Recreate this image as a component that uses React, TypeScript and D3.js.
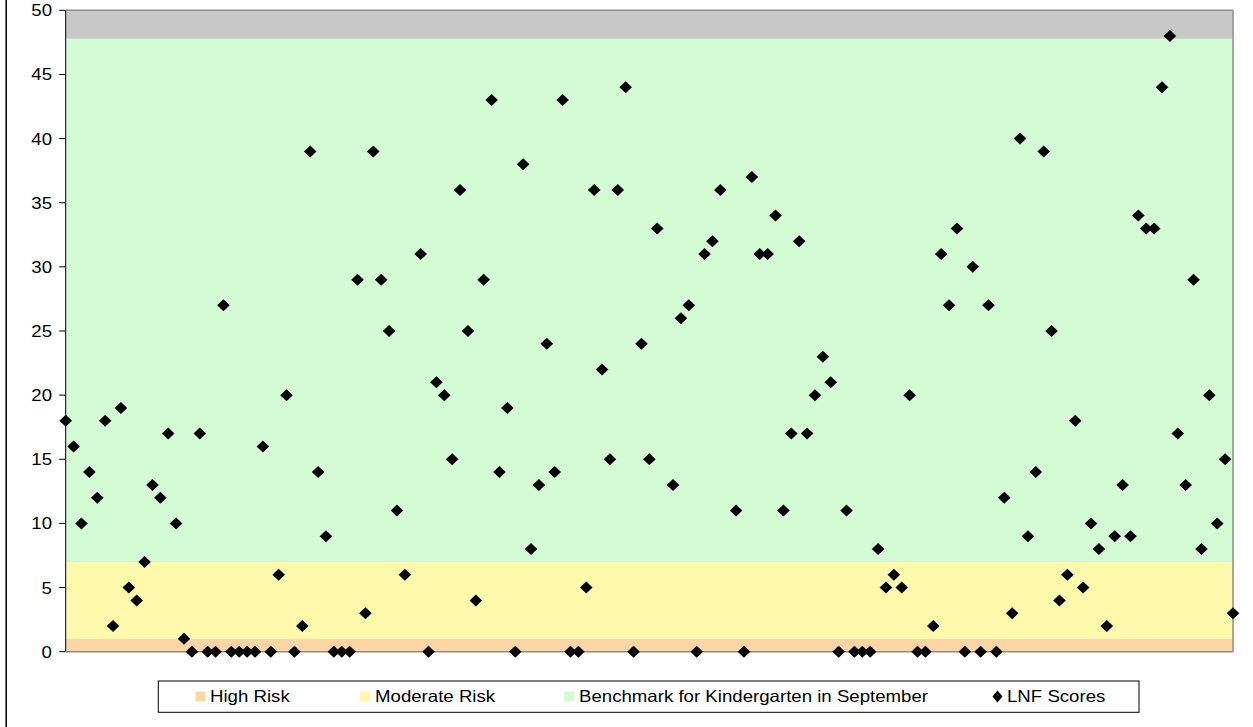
import React from "react";
import * as d3 from "d3";

// ---- Data ----
const students: number[] = Array.from({ length: 149 }, (_, i) => i + 1);
const lnfScores: (number | null)[] = [
  18, 16, 10, 14, 12, 18, 2, 19, 5, 4,
  7, 13, 12, 17, 10, 1, 0, 17, 0, 0,
  27, 0, 0, 0, 0, 16, 0, 6, 20, 0,
  2, 39, 14, 9, 0, 0, 0, 29, 3, 39,
  29, 25, 11, 6, null, 31, 0, 21, 20, 15,
  36, 25, 4, 29, 43, 14, 19, 0, 38, 8,
  13, 24, 14, 43, 0, 0, 5, 36, 22, 15,
  36, 44, 0, 24, 15, 33, null, 13, 26, 27,
  0, 31, 32, 36, null, 11, 0, 37, 31, 31,
  34, 11, 17, 32, 17, 20, 23, 21, 0, 11,
  0, 0, 0, 8, 5, 6, 5, 20, 0, 0,
  2, 31, 27, 33, 0, 30, 0, 27, 0, 12,
  3, 40, 9, 14, 39, 25, 4, 6, 18, 5,
  10, 8, 2, 9, 13, 9, 34, 33, 33, 44,
  48, 17, 13, 29, 8, 20, 10, 15, 3,
];
const bandNames = ["High Risk", "Moderate Risk", "Benchmark for Kindergarten in September"];
const bandLower = [0, 1, 7];
const bandUpper = [1, 7, 47.8];
const bandColors = ["#FFD5A6", "#FFFAAB", "#D3FBD4"];
const yTicks = [0, 5, 10, 15, 20, 25, 30, 35, 40, 45, 50];
const seriesName = "LNF Scores";

const W = 1253;
const H = 727;
const PL = 65.7;
const PR = 1233;
const PT = 10.3;
const PB = 651.7;
const FONT = "'Liberation Sans', Arial, sans-serif";
const FS = 16.5;
const SX = 1.13;

export default function App() {
  const x = d3.scaleLinear().domain([0, students.length - 1]).range([PL, PR]);
  const y = d3.scaleLinear().domain([0, 50]).range([PB, PT]);
  const diamond = (cx: number, cy: number, hw = 6.3, hh = 6) =>
    `M${cx},${cy - hh}L${cx + hw},${cy}L${cx},${cy + hh}L${cx - hw},${cy}Z`;

  const legendItems = [
    { sx: 195.5, tx: 210 },
    { sx: 360, tx: 375 },
    { sx: 564, tx: 579 },
  ];
  const legY = 696.5;

  return (
    <svg
      width={W}
      height={H}
      style={{ position: "absolute", left: 0, top: 0, background: "#fff" }}
      fontFamily={FONT}
    >
      <rect x={0} y={0} width={W} height={H} fill="#fff" />
      {/* chart-area left border */}
      <line x1={6.2} x2={6.2} y1={0} y2={H} stroke="#000" strokeWidth={1.5} />

      {/* plot area background */}
      <rect x={PL} y={PT} width={PR - PL} height={PB - PT} fill="#C8C8C8" />
      {/* stacked bands */}
      {bandNames.map((n, i) => (
        <rect
          key={n}
          x={x(0)}
          width={x(students.length - 1) - x(0)}
          y={y(bandUpper[i])}
          height={y(bandLower[i]) - y(bandUpper[i])}
          fill={bandColors[i]}
        />
      ))}
      {/* plot border top/right */}
      <line x1={PL} x2={PR} y1={PT} y2={PT} stroke="#8C8C8C" strokeWidth={1.5} />
      <line x1={PR} x2={PR} y1={PT} y2={PB} stroke="#8C8C8C" strokeWidth={1.5} />
      {/* bottom axis */}
      <line x1={PL} x2={PR} y1={PB} y2={PB} stroke="#8C8C8C" strokeWidth={1.5} />
      {/* y axis */}
      <line x1={PL} x2={PL} y1={PT} y2={PB} stroke="#000" strokeWidth={1} />
      {yTicks.map((t) => (
        <g key={t}>
          <line x1={PL - 6.5} x2={PL} y1={y(t)} y2={y(t)} stroke="#000" strokeWidth={1} />
          <g transform={`translate(52,${y(t)}) scale(${SX},1)`}>
            <text x={0} y={0} dy="0.36em" textAnchor="end" fontSize={FS} fill="#000">
              {t}
            </text>
          </g>
        </g>
      ))}

      {/* points */}
      {lnfScores.map((v, i) =>
        v === null ? null : <path key={i} d={diamond(x(i), y(v))} fill="#000" />
      )}

      {/* legend */}
      <rect x={158.3} y={681} width={1139 - 158.3} height={31.3} fill="#fff" stroke="#000" strokeWidth={1} />
      {bandNames.map((n, i) => (
        <g key={n}>
          <rect x={legendItems[i].sx} y={legY - 5} width={10} height={10} fill={bandColors[i]} />
          <g transform={`translate(${legendItems[i].tx},${legY}) scale(${SX},1)`}>
            <text x={0} y={0} dy="0.36em" fontSize={FS} fill="#000">
              {n}
            </text>
          </g>
        </g>
      ))}
      <path d={diamond(997.5, legY, 5, 6)} fill="#000" />
      <g transform={`translate(1007,${legY}) scale(${SX},1)`}>
        <text x={0} y={0} dy="0.36em" fontSize={FS} fill="#000">
          {seriesName}
        </text>
      </g>
    </svg>
  );
}
